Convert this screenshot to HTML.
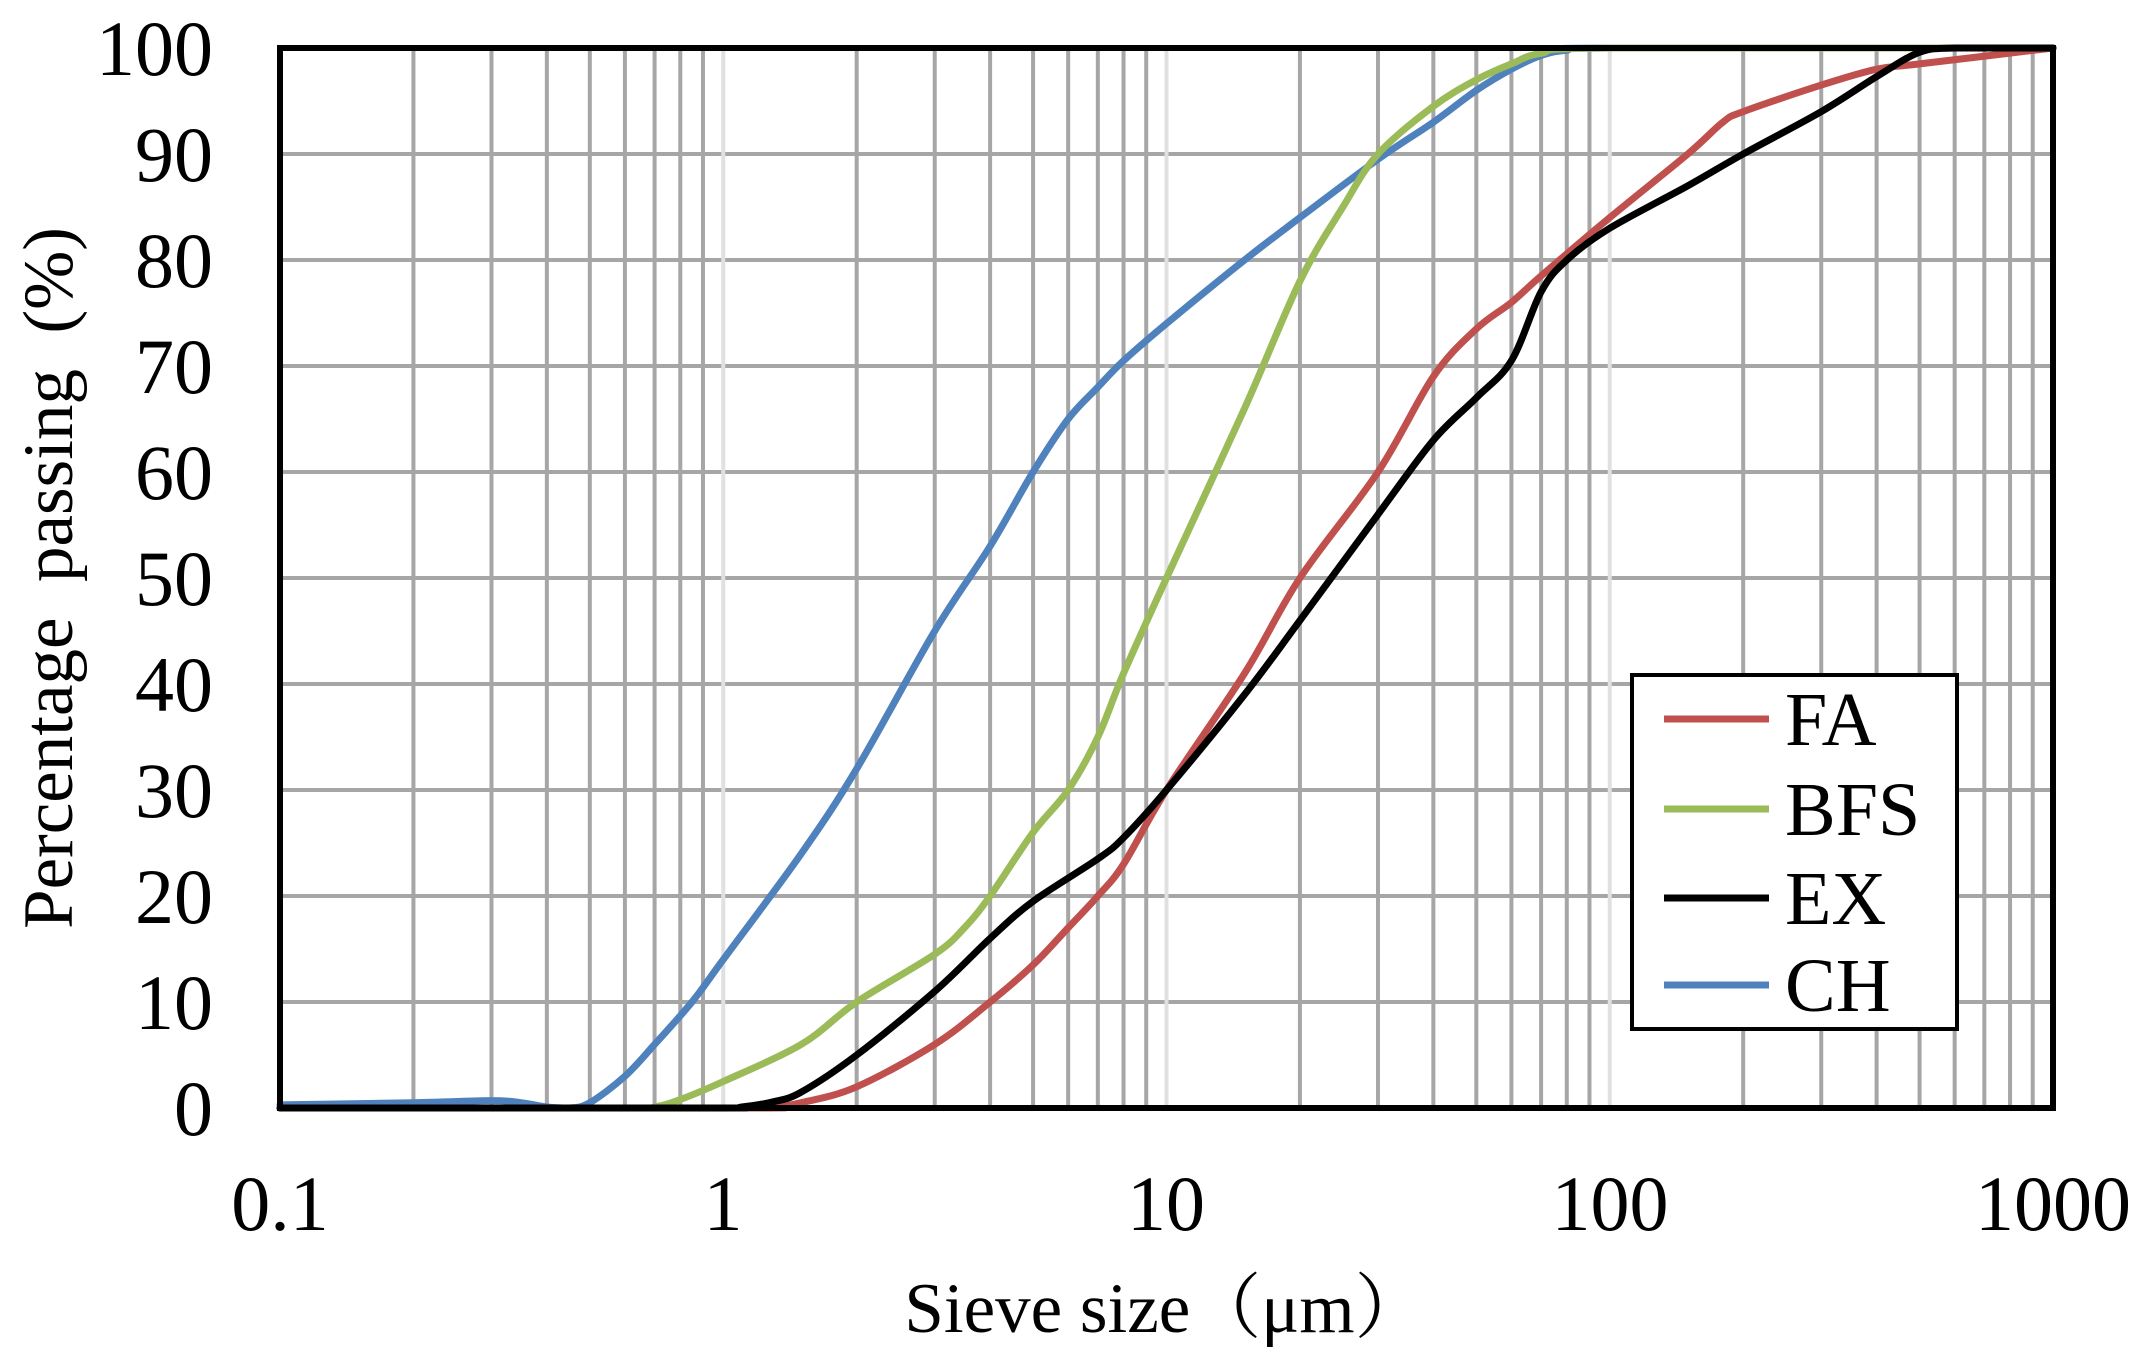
<!DOCTYPE html>
<html><head><meta charset="utf-8"><style>
html,body{margin:0;padding:0;background:#fff;}
svg{display:block;}
text{font-family:"Liberation Serif","Noto Serif CJK SC",serif;fill:#000;white-space:pre;}
</style></head><body>
<svg id="s" width="2141" height="1363" viewBox="0 0 2141 1363" xmlns="http://www.w3.org/2000/svg" xml:space="preserve">
<g id="grid"></g>
<g id="curves" fill="none" stroke-width="7" stroke-linejoin="round" stroke-linecap="round"></g>
<rect x="280" y="48" width="1773" height="1060" fill="none" stroke="#000" stroke-width="6"/>
<g font-size="78" text-anchor="end">
<text x="213" y="75">100</text><text x="213" y="181">90</text><text x="213" y="287">80</text>
<text x="213" y="393">70</text><text x="213" y="499">60</text><text x="213" y="605">50</text>
<text x="213" y="711">40</text><text x="213" y="817">30</text><text x="213" y="923">20</text>
<text x="213" y="1029">10</text><text x="213" y="1135">0</text>
</g>
<g font-size="78" text-anchor="middle">
<text x="280" y="1230">0.1</text><text x="723" y="1230">1</text><text x="1166" y="1230">10</text>
<text x="1610" y="1230">100</text><text x="2053" y="1230">1000</text>
</g>
<g font-size="71" text-anchor="middle">
<text x="1165" y="1332">Sieve size（μm）</text>
<text transform="translate(72,578) rotate(-90)">Percentage  passing  (%)</text>
</g>
<rect x="1632" y="675" width="325" height="354" fill="#fff" stroke="#000" stroke-width="4"/>
<g stroke-width="7">
<line x1="1664" y1="719" x2="1769" y2="719" stroke="#c0504d"/>
<line x1="1664" y1="809" x2="1769" y2="809" stroke="#9bbb59"/>
<line x1="1664" y1="898" x2="1769" y2="898" stroke="#000"/>
<line x1="1664" y1="985" x2="1769" y2="985" stroke="#4f81bd"/>
</g>
<g font-size="76">
<text x="1785" y="745">FA</text><text x="1785" y="835">BFS</text>
<text x="1785" y="924">EX</text><text x="1785" y="1011">CH</text>
</g>
</svg>
<script>
var L=280,R=2053,T=48,B=1108,D=(R-L)/4;
function X(v){return L+(Math.log10(v)+1)*D;}
function Y(p){return B-(B-T)*p/100;}
var g=document.getElementById('grid'),h='';
for(var i=1;i<10;i++){var y=Y(i*10);h+='<line x1="'+L+'" x2="'+R+'" y1="'+y+'" y2="'+y+'" stroke="#a6a6a6" stroke-width="4"/>';}
for(var e=-1;e<3;e++){for(var k=1;k<10;k++){var x=X(k*Math.pow(10,e));if(k==1&&e==-1)continue;
h+='<line y1="'+T+'" y2="'+B+'" x1="'+x+'" x2="'+x+'" stroke="'+(k==1?'#e0e0e0':'#a6a6a6')+'" stroke-width="4"/>';}}
g.innerHTML=h;
var data={
"#4f81bd":[[0.1,0.3],[0.2,0.5],[0.3,0.7],[0.35,0.5],[0.4,0.1],[0.45,0],[0.5,0.5],[0.6,3],[0.7,6],[0.85,10],[1,14],[1.5,24],[2,32],[3,45],[4,53],[5,60],[6,65],[7,68],[8,70.5],[10,74],[15,80],[20,84],[30,89.5],[40,93],[50,96],[60,98],[70,99.3],[80,99.8],[100,100],[1000,100]],
"#9bbb59":[[0.1,0],[0.6,0],[0.7,0.1],[0.8,0.8],[1,2.5],[1.5,6],[2,10],[3,14.5],[3.5,17],[4,20],[5,26],[6,30],[7,35],[8,41],[10,50],[15,66],[20,78],[25,85],[30,90],[40,94.5],[50,97],[60,98.5],[70,99.5],[100,100],[1000,100]],
"#c0504d":[[0.1,0],[1.1,0],[1.3,0.1],[1.5,0.5],[2,2],[3,6],[4,10],[5,13.5],[6,17],[7,20],[8,23],[10,30],[15,41],[20,50],[30,60],[40,69],[50,73.5],[60,76],[70,78.5],[100,84],[150,90],[180,93],[200,94],[300,96.5],[400,98],[500,98.5],[1000,100]],
"#000":[[0.1,0],[0.9,0],[1.1,0.1],[1.3,0.6],[1.5,1.5],[2,5],[3,11],[4,16],[5,19.5],[7,23.5],[8,25.5],[10,30],[15,39],[20,46],[30,56],[40,63],[50,67],[60,70.5],[70,77],[80,80],[100,83],[150,87],[200,90],[300,94],[400,97.3],[500,99.6],[600,100],[1000,100]]};
var c='';
["#4f81bd","#9bbb59","#c0504d","#000"].forEach(function(col){
var p=data[col].map(function(d){return [X(d[0]),Y(d[1])];});
var s='M'+p[0][0]+' '+p[0][1];
for(var i=0;i<p.length-1;i++){var p0=p[i-1]||p[i],p1=p[i],p2=p[i+1],p3=p[i+2]||p2;
var c1y=Math.max(T,Math.min(B,p1[1]+(p2[1]-p0[1])/6)),c2y=Math.max(T,Math.min(B,p2[1]-(p3[1]-p1[1])/6));
if(p1[1]==p2[1]){c1y=p1[1];c2y=p2[1];}
s+=' C'+(p1[0]+(p2[0]-p0[0])/6)+' '+c1y+' '+(p2[0]-(p3[0]-p1[0])/6)+' '+c2y+' '+p2[0]+' '+p2[1];}
c+='<path d="'+s+'" stroke="'+col+'"/>';});
document.getElementById('curves').innerHTML=c;
</script>
</body></html>
